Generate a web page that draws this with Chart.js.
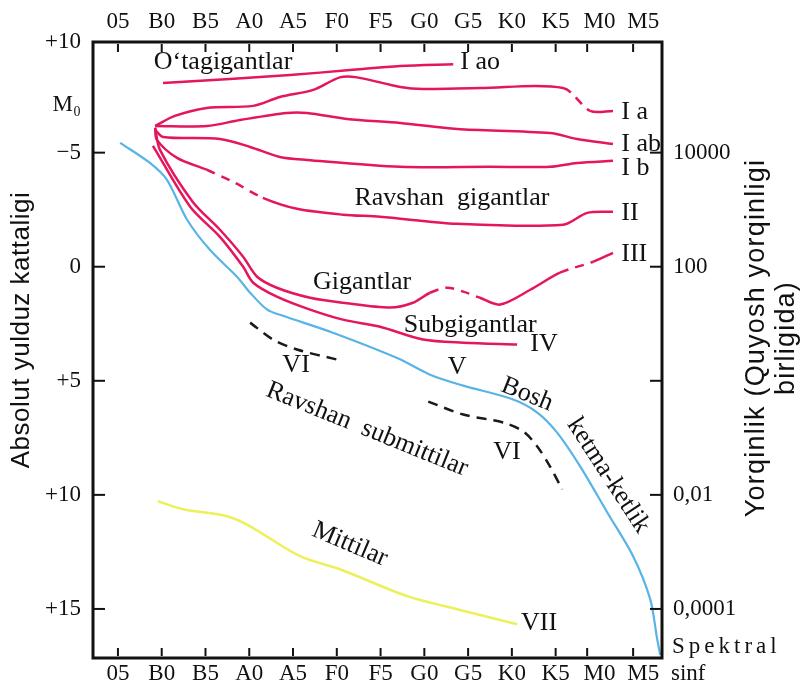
<!DOCTYPE html>
<html>
<head>
<meta charset="utf-8">
<script src="https://cdn.jsdelivr.net/npm/chart.js@4.4.0/dist/chart.umd.min.js"></script>
<style>
  html, body { margin: 0; padding: 0; background: #fff; }
</style>
</head>
<body>
<canvas id="hr" width="802" height="689"></canvas>
<script>
/*--------------------DATA--------------------*/
// spectral classes (x = index), absolute magnitude (y, grows downward)
const classes = ['05', 'B0', 'B5', 'A0', 'A5', 'F0', 'F5', 'G0', 'G5', 'K0', 'K5', 'M0', 'M5'];
const classTicks = [0, 1, 2, 3, 4, 5, 6, 7, 8, 9, 10, 10.72, 11.77];

const magTicks = [-9.85, -7.1, -5, 0, 5, 10, 15];
const magLabels = ['+10', 'M₀', '−5', '0', '+5', '+10', '+15'];
const lumTicks = [-5, 0, 5, 10, 15];
const lumLabels = ['10000', '100', '', '0,01', '0,0001'];

// luminosity classes, [spectral index, magnitude]
const iao = [[1.03, -8.05], [2.56, -8.23], [3.93, -8.40], [5.30, -8.62], [6.45, -8.80], [7.66, -8.88]];
const ia = [[0.85, -6.17], [1.30, -6.61], [2.03, -6.96], [3.09, -7.05], [3.70, -7.44], [4.46, -7.75], [5.07, -8.30],
  [5.46, -8.30], [6.45, -7.88], [6.97, -7.79], [8.27, -7.83], [10.17, -7.83], [10.79, -6.83], [11.31, -6.83]];
const iaDashed = [11];
const iab = [[0.85, -6.17], [2.03, -6.17], [2.79, -6.43], [3.86, -6.74], [4.32, -6.74], [5.23, -6.48], [6.45, -6.30],
  [7.75, -6.04], [9.87, -5.86], [10.49, -5.60], [11.31, -5.38]];
const ib = [[0.85, -6.0], [1.03, -5.69], [2.33, -5.60], [3.02, -5.25], [3.70, -4.81], [4.32, -4.68], [6.45, -4.38],
  [8.50, -4.38], [9.87, -4.38], [10.49, -4.55], [11.31, -4.64]];
const ii = [[0.85, -6.09], [0.89, -5.56], [1.35, -4.77], [2.03, -4.25], [2.67, -3.68], [3.31, -3.02], [4.09, -2.54],
  [5.14, -2.28], [5.99, -2.19], [7.75, -1.88], [10.17, -1.84], [10.72, -2.36], [11.31, -2.41]];
const iiDashed = [3, 4];
const iii = [[0.85, -6.09], [0.96, -5.12], [1.71, -2.84], [2.33, -1.62], [2.86, -0.44], [3.18, 0.44], [3.63, 0.92],
  [4.39, 1.36], [5.14, 1.58], [6.22, 1.79], [6.74, 1.58], [7.13, 1.14], [7.52, 0.92], [7.89, 1.09], [8.27, 1.36],
  [8.73, 1.66], [9.42, 1.01], [10.10, 0.26], [10.86, -0.22], [11.31, -0.61]];
const iiiDashed = [11, 12, 13, 17];
const iv = [[0.80, -5.30], [1.65, -2.63], [2.33, -1.31], [2.86, 0.0], [3.09, 0.70], [3.63, 1.31], [4.39, 1.88],
  [5.14, 2.32], [5.99, 2.63], [6.97, 3.19], [7.89, 3.33], [9.12, 3.41]];
const v = [[0.05, -5.43], [0.73, -4.55], [1.12, -3.81], [1.58, -2.06], [2.10, -0.74], [2.72, 0.44], [3.02, 1.14],
  [3.41, 1.88], [3.77, 2.15], [4.91, 2.89], [6.38, 4.0], [7.13, 4.73], [7.89, 5.21], [9.03, 5.82], [9.58, 6.39],
  [10.03, 7.26], [10.56, 8.75], [11.18, 10.77], [11.77, 12.69], [12.16, 14.57], [12.32, 16.32], [12.39, 17.02]];
const viUpper = [[3.02, 2.45], [3.54, 3.19], [4.09, 3.63], [5.01, 4.07]];
const viLower = [[7.09, 5.91], [7.89, 6.48], [8.80, 6.83], [9.26, 7.22], [9.58, 7.88], [9.87, 8.75], [10.15, 9.76]];
const vii = [[0.91, 10.28], [1.49, 10.63], [2.49, 10.94], [3.02, 11.38], [4.16, 12.69], [5.07, 13.26], [6.61, 14.44],
  [7.75, 15.01], [9.12, 15.67]];

// text on the diagram
const notes = [
  { t: 'O‘tagigantlar', x: 2.40, y: -8.97 },
  { t: 'I ao', x: 7.82, y: -8.97, align: 'left' },
  { t: 'I a', x: 11.50, y: -6.78, align: 'left' },
  { t: 'I ab', x: 11.50, y: -5.38, align: 'left' },
  { t: 'I b', x: 11.50, y: -4.33, align: 'left' },
  { t: 'II', x: 11.50, y: -2.36, align: 'left' },
  { t: 'III', x: 11.50, y: -0.53, align: 'left' },
  { t: 'Ravshan  gigantlar', x: 7.63, y: -3.02 },
  { t: 'Gigantlar', x: 5.58, y: 0.66 },
  { t: 'Subgigantlar', x: 8.05, y: 2.54 },
  { t: 'IV', x: 9.42, y: 3.41, align: 'left' },
  { t: 'V', x: 7.75, y: 4.42 },
  { t: 'Bosh', x: 9.35, y: 5.60, rot: 22 },
  { t: 'ketma-ketlik', x: 11.2, y: 9.15, rot: 57 },
  { t: 'VI', x: 4.07, y: 4.33 },
  { t: 'Ravshan  submittilar', x: 5.69, y: 7.13, rot: 22 },
  { t: 'VI', x: 8.89, y: 8.14 },
  { t: 'Mittilar', x: 5.30, y: 12.17, rot: 23 },
  { t: 'VII', x: 9.21, y: 15.62, align: 'left' }
];

/*--------------------CHART--------------------*/
const PINK = 'rgb(228,22,92)';
const serif = 'Liberation Serif';

function pts(list) {
    return list.map(p => ({ x: p[0], y: p[1] }));
}

function line(data, color, width, dashedSegs, dash) {
    return {
        data: pts(data),
        showLine: true,
        borderColor: color,
        borderWidth: width,
        pointRadius: 0,
        tension: 0.3,
        borderDash: dash || [],
        segment: {
            borderDash: ctx => (dashedSegs && dashedSegs.includes(ctx.p0DataIndex)) ? [9, 7] : undefined
        }
    };
}

function fixSize(w, h) {
    return scale => {
        if (w != null) scale.width = w;
        if (h != null) scale.height = h;
    };
}

const decor = {
    id: 'decor',
    afterDraw(chart) {
        const { ctx, chartArea: a, scales } = chart;
        const sx = scales.x, sy = scales.y;
        ctx.save();
        ctx.strokeStyle = '#111';
        ctx.fillStyle = '#111';

        // frame
        ctx.lineWidth = 3;
        ctx.strokeRect(a.left, a.top, a.right - a.left, a.bottom - a.top);

        // inward ticks
        ctx.lineWidth = 2;
        const seg = (x1, y1, x2, y2) => { ctx.beginPath(); ctx.moveTo(x1, y1); ctx.lineTo(x2, y2); ctx.stroke(); };
        classTicks.forEach(c => {
            let px = sx.getPixelForValue(c);
            seg(px, a.top + 2, px, a.top + 10);
            seg(px, a.bottom - 10, px, a.bottom - 2);
        });
        [-5, 0, 5, 10, 15].forEach(m => {
            let py = sy.getPixelForValue(m);
            seg(a.left, py, a.left + 12, py);
        });
        lumTicks.forEach(m => {
            let py = sy.getPixelForValue(m);
            seg(a.right - 12, py, a.right, py);
        });

        // notes
        ctx.font = `26px "${serif}"`;
        ctx.textBaseline = 'middle';
        notes.forEach(n => {
            ctx.save();
            ctx.translate(sx.getPixelForValue(n.x), sy.getPixelForValue(n.y));
            if (n.rot) ctx.rotate(n.rot * Math.PI / 180);
            ctx.textAlign = n.align || 'center';
            ctx.fillText(n.t, 0, 0);
            ctx.restore();
        });

        // axis titles
        ctx.textAlign = 'center';
        ctx.font = '26px "Liberation Sans"';
        ctx.letterSpacing = '0.5px';
        ctx.save();
        ctx.translate(22, 330);
        ctx.rotate(-Math.PI / 2);
        ctx.fillText('Absolut yulduz kattaligi', 0, 0);
        ctx.restore();
        ctx.font = '27px "Liberation Sans"';
        ctx.letterSpacing = '1.2px';
        ctx.save();
        ctx.translate(757, 338);
        ctx.rotate(-Math.PI / 2);
        ctx.fillText('Yorqinlik (Quyosh yorqinligi', 0, 0);
        ctx.fillText('birligida)', 0, 30);
        ctx.restore();

        ctx.font = `23px "${serif}"`;
        ctx.textAlign = 'left';
        ctx.letterSpacing = '4px';
        ctx.fillText('Spektral', 672, 647);
        ctx.letterSpacing = '0px';
        ctx.fillText('sinf', 671, 674);
        ctx.restore();
    }
};

const tickFont = { family: serif, size: 23 };
const xScale = (pos, pad, h) => ({
    type: 'linear', position: pos, axis: 'x', min: -0.57, max: 12.43,
    grid: { display: false, drawTicks: false }, border: { display: false },
    afterBuildTicks: s => { s.ticks = classes.map((c, i) => ({ value: i })); },
    ticks: { autoSkip: false, font: tickFont, color: '#111', padding: pad, maxRotation: 0,
             callback: (val, i) => classes[i] },
    afterFit: fixSize(null, h)
});

new Chart(document.getElementById('hr'), {
    type: 'scatter',
    data: {
        datasets: [
            line(iao, PINK, 2.5),
            line(ia, PINK, 2.5, iaDashed),
            line(iab, PINK, 2.5),
            line(ib, PINK, 2.5),
            line(ii, PINK, 2.5, iiDashed),
            line(iii, PINK, 2.5, iiiDashed),
            line(iv, PINK, 2.5),
            line(v, 'rgb(88,180,230)', 2.2),
            line(viUpper, '#1a1a1a', 2.5, null, [10, 7]),
            line(viLower, '#1a1a1a', 2.5, null, [10, 7]),
            line(vii, 'rgb(236,240,90)', 2.5)
        ]
    },
    options: {
        responsive: false,
        animation: false,
        layout: { padding: 0 },
        plugins: { legend: { display: false }, tooltip: { enabled: false } },
        scales: {
            x: xScale('bottom', 2, 31),
            x2: xScale('top', 6, 42),
            y: {
                type: 'linear', position: 'left', axis: 'y', reverse: true, min: -9.85, max: 17.15,
                grid: { display: false, drawTicks: false }, border: { display: false },
                afterBuildTicks: s => { s.ticks = magTicks.map(m => ({ value: m })); },
                ticks: { autoSkip: false, font: tickFont, color: '#111', padding: 12,
                         callback: (val, i) => magLabels[i] },
                afterFit: fixSize(93, null)
            },
            y2: {
                type: 'linear', position: 'right', axis: 'y', reverse: true, min: -9.85, max: 17.15,
                grid: { display: false, drawTicks: false }, border: { display: false },
                afterBuildTicks: s => { s.ticks = lumTicks.map(m => ({ value: m })); },
                ticks: { autoSkip: false, font: tickFont, color: '#111', padding: 11,
                         callback: (val, i) => lumLabels[i] },
                afterFit: fixSize(140, null)
            }
        }
    },
    plugins: [decor]
});
</script>
</body>
</html>
